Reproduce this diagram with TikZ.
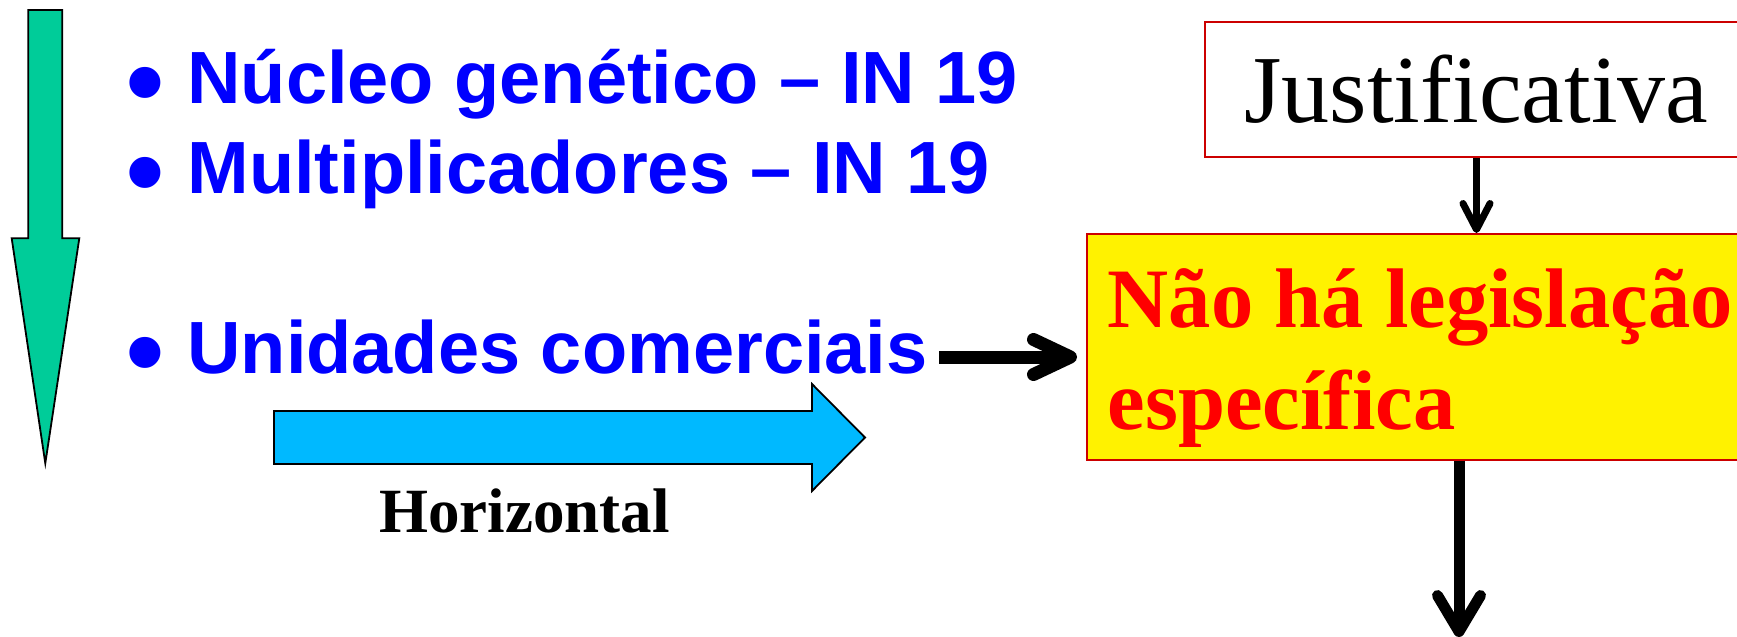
\documentclass[tikz,border=0pt]{standalone}
\usepackage{fontspec}
\setmainfont{Liberation Serif}
\newfontfamily\arialfont{Liberation Sans}
\usetikzlibrary{arrows.meta,positioning}

\definecolor{setagreen}{RGB}{0,204,153}
\definecolor{setacyan}{RGB}{0,185,255}
\definecolor{boxred}{RGB}{204,0,0}

\tikzstyle{item} = [inner sep=0pt, anchor=base west, text=blue, font=\arialfont\bfseries\fontsize{37}{44}\selectfont]
\tikzstyle{dot} = [inner sep=0pt, anchor=base, text=blue, font=\arialfont\bfseries\fontsize{54}{60}\selectfont]
\tikzstyle{lbl} = [inner sep=0pt, anchor=base west, font=\bfseries\fontsize{31.5}{38}\selectfont]
\tikzstyle{justbox} = [rectangle, draw=boxred, line width=0.75pt, minimum width=271.5pt, minimum height=67.5pt, font=\fontsize{48}{58}\selectfont]
\tikzstyle{nhabox} = [rectangle, draw=boxred, fill=yellow, line width=0.75pt, text=red, align=left, inner xsep=10.5pt, inner ysep=6pt, anchor=north west, font=\bfseries\fontsize{42.3}{51}\selectfont]
\tikzstyle{blockarrow} = [draw=black, line width=0.9pt, line join=miter]
\tikzstyle{arrow} = [line cap=butt]

\begin{document}
\begin{tikzpicture}[x=0.5pt, y=-0.5pt]
    \useasboundingbox (0,0) rectangle (1737,637);
    \clip (0,0) rectangle (1737,637);

    % block arrows
    \draw [blockarrow, fill=setagreen] (28.3,10) -- (62.3,10) -- (62.3,238.3) -- (79.3,238.3)
        -- (45.3,463.3) -- (11.7,238.3) -- (28.3,238.3) -- cycle;
    \draw [blockarrow, fill=setacyan] (274,411) -- (812,411) -- (812,384) -- (865,437.5)
        -- (812,491) -- (812,464) -- (274,464) -- cycle;

    \node (nucleo) [item] at (187,103) {Núcleo genético – IN 19};
    \node (mult) [item, below=45pt of nucleo.base west, anchor=base west] {Multiplicadores – IN 19};
    \node (unid) [item, below=90pt of mult.base west, anchor=base west] {Unidades comerciais};

    \node (dot0) [dot] at ([xshift=-20.75pt, yshift=-7.85pt]nucleo.base west) {•};
    \node (dot1) [dot] at ([xshift=-20.75pt, yshift=-7.85pt]mult.base west) {•};
    \node (dot2) [dot] at ([xshift=-20.75pt, yshift=-7.85pt]unid.base west) {•};

    \node (horiz) [lbl] at (379,532) {Horizontal};

    \node (just) [justbox] at (1476.5,89.5) {Justificativa};
    \node (nha) [nhabox] at (1086,233) {\rule{0pt}{41pt}Não há legislação\\específica};

    \coordinate (hy) at (0,357);
    \coordinate (out) at (1459,637);

    \draw [arrow, line width=3.5pt, -{Straight Barb[round, length=13pt, width=13.5pt]}]
        (just.south) -- (just.south |- nha.north);
    \draw [arrow, line width=6.5pt, -{Straight Barb[round, length=18.5pt, width=17.5pt]},
        shorten <=5.5pt, shorten >=4.5pt] (unid.east |- hy) -- (nha.west |- hy);
    \draw [arrow, line width=5.5pt, -{Straight Barb[round, length=18pt, width=21.5pt]}]
        (nha.south -| out) -- (out);
\end{tikzpicture}
\end{document}
